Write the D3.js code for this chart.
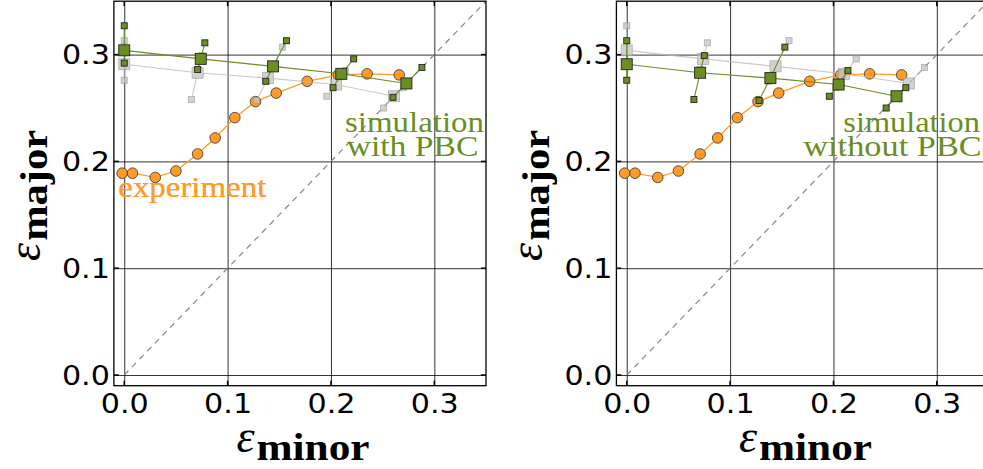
<!DOCTYPE html>
<html>
<head>
<meta charset="utf-8">
<script src="https://cdn.jsdelivr.net/npm/d3@7"></script>
<style>
  body { margin: 0; background: #fff; }
  svg { display: block; }
  .serif { font-family: "Liberation Serif", "Times New Roman", serif; }
</style>
</head>
<body>
<script>
var xTicks = [0.0, 0.1, 0.2, 0.3];
var yTicks = [0.0, 0.1, 0.2, 0.3];

// experiment (orange circles)
var expMinor = [-0.002, 0.008, 0.030, 0.050, 0.071, 0.088, 0.107, 0.127, 0.147, 0.177, 0.207, 0.235, 0.266];
var expMajor = [0.189, 0.189, 0.185, 0.191, 0.207, 0.222, 0.241, 0.256, 0.264, 0.275, 0.281, 0.282, 0.281];

// simulation with PBC: mean (big squares) and two extremes (small squares)
var pbcMean  = [[0.000, 0.304], [0.074, 0.296], [0.144, 0.289], [0.210, 0.282], [0.273, 0.273]];
var pbcUpper = [[0.000, 0.327], [0.078, 0.311], [0.157, 0.313], [0.222, 0.296], [0.288, 0.288]];
var pbcLower = [[0.000, 0.292], [0.071, 0.286], [0.137, 0.275], [0.202, 0.269], [0.260, 0.260]];

// simulation without PBC
var nopbcMean  = [[0.000, 0.291], [0.071, 0.283], [0.139, 0.278], [0.205, 0.272], [0.261, 0.261]];
var nopbcUpper = [[0.000, 0.313], [0.075, 0.299], [0.153, 0.307], [0.214, 0.285], [0.270, 0.269]];
var nopbcLower = [[0.000, 0.276], [0.065, 0.258], [0.128, 0.257], [0.196, 0.261], [0.251, 0.250]];

var green = "#6b8e23";
var orange = "#ff9b26";

var svg = d3.select("body").append("svg")
  .attr("width", 983)
  .attr("height", 469);

function drawPanel(left, fg, bg, labelLines) {
  var top = 1.2, width = 372.1, height = 384.5;
  var g = svg.append("g")
    .attr("transform", "translate(" + left + "," + top + ")");

  var x = d3.scaleLinear().domain([-0.01, 0.35]).range([0, width]);
  var y = d3.scaleLinear().domain([-0.01, 0.35]).range([height, 0]);

  // grid + tick labels
  var xAxis = d3.axisBottom(x).tickValues(xTicks).tickFormat(d3.format(".1f"))
    .tickSize(-height).tickSizeOuter(0);
  var yAxis = d3.axisLeft(y).tickValues(yTicks).tickFormat(d3.format(".1f"))
    .tickSize(-width).tickSizeOuter(0);

  var gx = g.append("g")
    .attr("transform", "translate(0," + height + ")")
    .call(xAxis);
  var gy = g.append("g").call(yAxis);

  [gx, gy].forEach(function(a) {
    a.select(".domain").remove();
    a.selectAll(".tick line").attr("stroke", "#000").attr("stroke-opacity", 0.8).attr("stroke-width", 1);
    a.selectAll(".tick text")
      .attr("fill", "#000")
      .style("font-family", "DejaVu Sans")
      .style("font-size", "26px")
      .attr("textLength", 48)
      .attr("lengthAdjust", "spacingAndGlyphs");
  });
  gx.selectAll(".tick text").attr("y", 27).attr("dy", null);
  gy.selectAll(".tick text").attr("x", -4).attr("dy", "0.36em");

  // inward ticks on all sides
  var tk = g.append("g").attr("stroke", "#000").attr("stroke-width", 1.5);
  xTicks.forEach(function(t) {
    tk.append("line").attr("x1", x(t)).attr("x2", x(t)).attr("y1", height).attr("y2", height - 5);
    tk.append("line").attr("x1", x(t)).attr("x2", x(t)).attr("y1", 0).attr("y2", 5);
  });
  yTicks.forEach(function(t) {
    tk.append("line").attr("y1", y(t)).attr("y2", y(t)).attr("x1", 0).attr("x2", 5);
    tk.append("line").attr("y1", y(t)).attr("y2", y(t)).attr("x1", width).attr("x2", width - 5);
  });

  // y = x reference
  g.append("line")
    .attr("x1", x(0)).attr("y1", y(0))
    .attr("x2", x(0.35)).attr("y2", y(0.35))
    .attr("stroke", "#888").attr("stroke-width", 1.2)
    .attr("stroke-dasharray", "6,5");

  // experiment
  var expData = expMinor.map(function(d, i) { return [d, expMajor[i]]; });
  var line = d3.line().x(function(d) { return x(d[0]); }).y(function(d) { return y(d[1]); });

  g.append("path").datum(expData)
    .attr("fill", "none").attr("stroke", orange).attr("stroke-width", 1.3)
    .attr("d", line);
  g.selectAll("circle.exp").data(expData).enter()
    .append("circle")
    .attr("class", "exp")
    .attr("r", 5.3)
    .attr("cx", function(d) { return x(d[0]); })
    .attr("cy", function(d) { return y(d[1]); })
    .attr("fill", orange)
    .attr("stroke", "#333")
    .attr("stroke-width", 0.8);

  function drawSet(set, lineColor, fill, edge, opacity) {
    var s = g.append("g").attr("opacity", opacity);
    s.append("path").datum(set.mean)
      .attr("fill", "none").attr("stroke", lineColor).attr("stroke-width", 1.1)
      .attr("d", line);
    set.mean.forEach(function(m, i) {
      s.append("path").datum([set.upper[i], m, set.lower[i]])
        .attr("fill", "none").attr("stroke", lineColor).attr("stroke-width", 1.1)
        .attr("d", line);
    });
    function squares(data, size) {
      s.selectAll(null).data(data).enter()
        .append("rect")
        .attr("x", function(d) { return x(d[0]) - size / 2; })
        .attr("y", function(d) { return y(d[1]) - size / 2; })
        .attr("width", size).attr("height", size)
        .attr("fill", fill).attr("stroke", edge).attr("stroke-width", 0.9);
    }
    squares(set.mean, 11);
    squares(set.upper, 6);
    squares(set.lower, 6);
  }

  drawSet(bg, "#b8b8b8", "#c4c4c4", "#9a9a9a", 0.75);
  drawSet(fg, green, green, "#222", 1);

  // annotations
  g.append("text")
    .attr("class", "serif")
    .attr("x", 118.3 - left).attr("y", 197.3 - top)
    .attr("fill", orange)
    .style("font-size", "29px")
    .attr("textLength", 148).attr("lengthAdjust", "spacingAndGlyphs")
    .text("experiment");

  labelLines.forEach(function(l) {
    g.append("text")
      .attr("class", "serif")
      .attr("x", l.x - left).attr("y", l.y - top)
      .attr("fill", green)
      .style("font-size", "29px")
      .attr("textLength", l.len).attr("lengthAdjust", "spacingAndGlyphs")
      .text(l.text);
  });

  // frame
  g.append("rect")
    .attr("width", width).attr("height", height)
    .attr("fill", "none").attr("stroke", "#000").attr("stroke-width", 1.3);

  // axis labels
  var xl = svg.append("text")
    .attr("class", "serif")
    .attr("x", left + 122.5).attr("y", 452);
  xl.append("tspan").style("font-style", "italic")
    .style("font-size", "46px").text("ε");
  xl.append("tspan").attr("dx", 2).attr("dy", 8).style("font-weight", "bold")
    .style("font-size", "38px").attr("textLength", 113).attr("lengthAdjust", "spacingAndGlyphs")
    .text("minor");

  var yl = svg.append("text")
    .attr("class", "serif")
    .attr("transform", "translate(" + (left - 74) + ",261) rotate(-90)");
  yl.append("tspan").style("font-style", "italic")
    .style("font-size", "46px").text("ε");
  yl.append("tspan").attr("dx", 2).attr("dy", 7).style("font-weight", "bold")
    .style("font-size", "38px").attr("textLength", 111).attr("lengthAdjust", "spacingAndGlyphs")
    .text("major");
}

drawPanel(113.9,
  { mean: pbcMean, upper: pbcUpper, lower: pbcLower },
  { mean: nopbcMean, upper: nopbcUpper, lower: nopbcLower },
  [ { text: "simulation", x: 345, y: 131.7, len: 139 },
    { text: "with PBC", x: 346.7, y: 155.7, len: 131.6 } ]);

drawPanel(616.4,
  { mean: nopbcMean, upper: nopbcUpper, lower: nopbcLower },
  { mean: pbcMean, upper: pbcUpper, lower: pbcLower },
  [ { text: "simulation", x: 843.3, y: 131.7, len: 136.7 },
    { text: "without PBC", x: 803.3, y: 155.7, len: 178.4 } ]);
</script>
</body>
</html>
